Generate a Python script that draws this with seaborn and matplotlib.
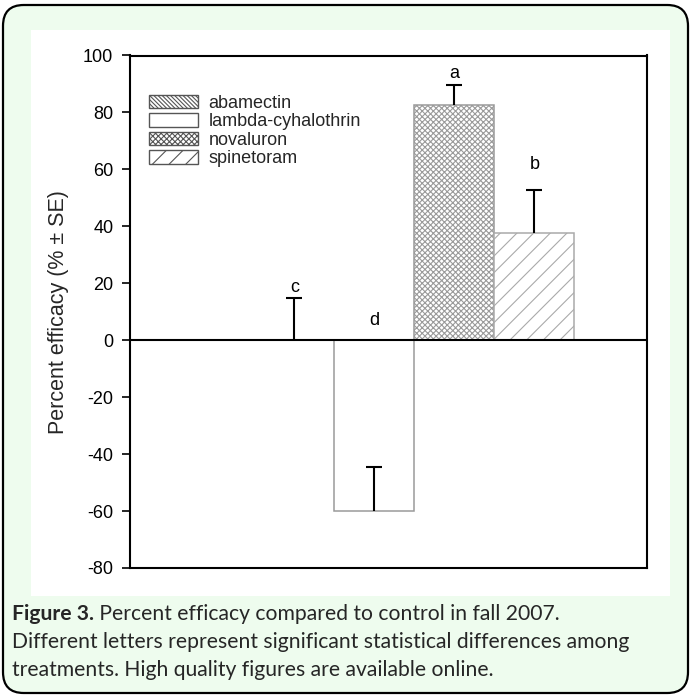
import matplotlib
matplotlib.use('Agg')
import matplotlib.pyplot as plt
import seaborn as sns
import pandas as pd
from matplotlib.patches import Patch, FancyBboxPatch, Rectangle

# ---- data ----
treatments = ['abamectin', 'lambda-cyhalothrin', 'novaluron', 'spinetoram']
efficacy = [0.0, -60.0, 82.5, 37.5]
se = [14.7, 15.4, 7.3, 15.4]
letters = ['c', 'd', 'a', 'b']
letter_y = [17.1, 5.2, 92.0, 60.0]
yticks = [-80, -60, -40, -20, 0, 20, 40, 60, 80, 100]
caption_bold = 'Figure 3.'
caption_lines = [' Percent efficacy compared to control in fall 2007.',
                 'Different letters represent significant statistical differences among',
                 'treatments. High quality figures are available online.']

# ---- style ----
sns.set_theme(style='white')
plt.rcParams['font.family'] = ['Liberation Sans', 'DejaVu Sans']
plt.rcParams['hatch.linewidth'] = 0.8

W, H = 691, 698
fig = plt.figure(figsize=(W / 100, H / 100), dpi=100)
fig.patch.set_facecolor('white')

# rounded green panel with black border
bg = FancyBboxPatch((3 / W, 5 / H), 685 / W, 688 / H,
                    boxstyle='round,pad=0,rounding_size=0.03',
                    transform=fig.transFigure, facecolor='#EEFCEE',
                    edgecolor='black', lw=1.6, zorder=-2)
fig.patches.append(bg)
# white inner image area
inner = Rectangle((31 / W, (H - 596) / H), 639 / W, 566 / H,
                  transform=fig.transFigure, facecolor='white',
                  edgecolor='none', zorder=-1)
fig.patches.append(inner)

ax = fig.add_axes([130 / W, 130 / H, 517.3 / W, 512.5 / H])
ax.set_facecolor('white')
ax.set_zorder(1)

df = pd.DataFrame({'treatment': treatments, 'efficacy': efficacy})
sns.barplot(data=df, x='treatment', y='efficacy', order=treatments,
            color='white', saturation=1, width=1.0, errorbar=None,
            edgecolor='#9a9a9a', linewidth=1.1, ax=ax)

bar_hatches = ['\\' * 8, '', 'x' * 6, '//']
bar_edges = ['#9a9a9a', '#9a9a9a', '#9a9a9a', '#aaaaaa']
for p, h, ec in zip(ax.patches, bar_hatches, bar_edges):
    p.set_facecolor('white')
    p.set_hatch(h)
    p.set_edgecolor(ec)

# one-sided error bars (upper cap only)
eb = ax.errorbar(x=list(range(len(treatments))), y=efficacy,
                 yerr=[[0] * len(se), se], fmt='none', ecolor='black',
                 elinewidth=1.5, capsize=5.8, capthick=1.5, zorder=5)
caplines = eb[1]
if len(caplines) >= 2:
    caplines[0].set_visible(False)

ax.axhline(0, color='black', lw=1.5, zorder=6)

# significance letters
for i, (yy, l) in enumerate(zip(letter_y, letters)):
    ax.text(i, yy, l, ha='center', va='baseline', fontsize=13, color='black')

ax.set_xlim(-2.054, 4.4125)
ax.set_ylim(-80, 100)
ax.set_yticks(yticks)
ax.set_yticklabels([str(t) for t in yticks])
ax.set_xticks([])
ax.set_xlabel('')
ax.set_ylabel('Percent efficacy (% ± SE)', fontsize=15.5, labelpad=10)
ax.tick_params(axis='y', direction='out', length=6, width=1.2,
               pad=6, labelsize=13, left=True, colors='black')
for sp in ax.spines.values():
    sp.set_visible(True)
    sp.set_color('black')
    sp.set_linewidth(1.5)

# legend
leg_hatches = ['\\' * 8, '', 'x' * 6, '//']
handles = [Patch(facecolor='white', edgecolor='#555555', hatch=h, lw=1.0, label=t)
           for t, h in zip(treatments, leg_hatches)]
ax.legend(handles=handles, loc='upper left', bbox_to_anchor=(0.037, 0.923),
          frameon=False, fontsize=13, handlelength=2.7, handleheight=0.75,
          handletextpad=0.6, labelspacing=0.08, borderpad=0, borderaxespad=0)

# caption
cap_fs = 15.2
cap_font = ['Lato', 'DejaVu Sans']
x0 = 12 / W
y1 = (H - 614) / H
step = 28 / H
t0 = fig.text(x0, y1, caption_bold, fontsize=cap_fs, fontweight='bold',
              family=cap_font, va='center', ha='left')
renderer = fig.canvas.get_renderer()
bb = t0.get_window_extent(renderer=renderer)
fig.text(bb.x1 / fig.bbox.width, y1, caption_lines[0], fontsize=cap_fs,
         family=cap_font, va='center', ha='left')
fig.text(x0, y1 - step, caption_lines[1], fontsize=cap_fs,
         family=cap_font, va='center', ha='left')
fig.text(x0, y1 - 2 * step, caption_lines[2], fontsize=cap_fs,
         family=cap_font, va='center', ha='left')

fig.savefig('out.png', dpi=100, facecolor=fig.get_facecolor())
